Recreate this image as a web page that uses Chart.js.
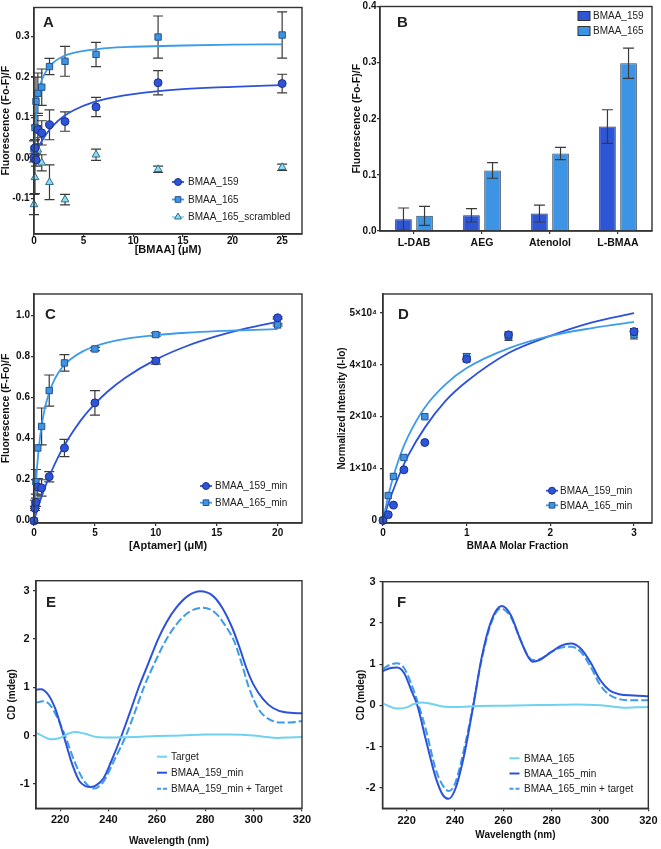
<!DOCTYPE html>
<html>
<head>
<meta charset="utf-8">
<script src="https://cdn.jsdelivr.net/npm/chart.js@4.4.0/dist/chart.umd.min.js"></script>
<style>
  body { margin: 0; background: #fff; width: 661px; height: 849px; position: relative; overflow: hidden; }
  canvas { position: absolute; }
</style>
</head>
<body>
<canvas id="chartA" style="left:0;top:0" width="330" height="262"></canvas>
<canvas id="chartB" style="left:330px;top:0" width="331" height="262"></canvas>
<canvas id="chartC" style="left:0;top:270px" width="330" height="287"></canvas>
<canvas id="chartD" style="left:330px;top:270px" width="331" height="287"></canvas>
<canvas id="chartE" style="left:0;top:560px" width="330" height="289"></canvas>
<canvas id="chartF" style="left:330px;top:560px" width="331" height="289"></canvas>
<script>
// ---- panel A : titration, [BMAA] (uM)
const concA = [0, 0.1, 0.2, 0.39, 0.78, 1.56, 3.125, 6.25, 12.5, 25];
const resp159A = [0.0, 0.025, -0.005, 0.07, 0.062, 0.082, 0.09, 0.126, 0.186, 0.184];
const err159A = [0.01, 0.02, 0.015, 0.035, 0.03, 0.037, 0.024, 0.024, 0.03, 0.023];
const resp165A = [0.022, 0.075, 0.14, 0.16, 0.175, 0.226, 0.239, 0.256, 0.299, 0.304];
const err165A = [0.02, 0.03, 0.06, 0.05, 0.045, 0.02, 0.037, 0.03, 0.052, 0.057];
const concScrA = [0, 0.1, 0.39, 0.78, 1.56, 3.125, 6.25, 12.5, 25];
const respScrA = [-0.115, -0.048, 0.02, -0.012, -0.06, -0.103, 0.008, -0.028, -0.023];
const errScrA = [0.025, 0.04, 0.03, 0.02, 0.043, 0.013, 0.014, 0.008, 0.008];
const fitXA = [0, 0.1, 0.2, 0.35, 0.5, 0.75, 1, 1.5, 2, 3, 4, 6, 8, 10, 15, 20, 25];
const fit165A = [0, 0.06, 0.1, 0.14, 0.165, 0.19, 0.205, 0.225, 0.237, 0.252, 0.26, 0.268, 0.273, 0.275, 0.278, 0.28, 0.281];
const fit159A = [0, 0.006, 0.012, 0.02, 0.028, 0.04, 0.05, 0.068, 0.082, 0.103, 0.118, 0.138, 0.15, 0.158, 0.17, 0.176, 0.18];
const xTicksA = [0, 5, 10, 15, 20, 25];
const yTicksA = [-0.1, 0, 0.1, 0.2, 0.3];

// ---- panel B : selectivity bars
const catsB = ['L-DAB', 'AEG', 'Atenolol', 'L-BMAA'];
const bar159B = [0.021, 0.028, 0.031, 0.186];
const barErr159B = [0.02, 0.012, 0.015, 0.03];
const bar165B = [0.027, 0.108, 0.138, 0.299];
const barErr165B = [0.017, 0.014, 0.011, 0.027];
const yTicksB = [0, 0.1, 0.2, 0.3, 0.4];

// ---- panel C : [Aptamer] (uM)
const concC = [0, 0.078, 0.156, 0.3125, 0.625, 1.25, 2.5, 5, 10, 20];
const resp159C = [0, 0.06, 0.09, 0.165, 0.16, 0.215, 0.355, 0.575, 0.78, 0.99];
const err159C = [0, 0.01, 0.02, 0.04, 0.04, 0.025, 0.042, 0.06, 0.016, 0.005];
const resp165C = [0, 0.08, 0.19, 0.355, 0.46, 0.635, 0.77, 0.838, 0.908, 0.955];
const err165C = [0, 0.02, 0.06, 0.0, 0.09, 0.076, 0.04, 0.008, 0.008, 0.005];
const fitXC = [0, 0.25, 0.5, 0.75, 1, 1.5, 2, 2.5, 3, 4, 5, 6, 7.5, 10, 12.5, 15, 17.5, 20];
const fit165C = [0, 0.26, 0.41, 0.507, 0.576, 0.665, 0.722, 0.76, 0.788, 0.826, 0.851, 0.869, 0.887, 0.905, 0.917, 0.925, 0.93, 0.935];
const fit159C = [0, 0.05, 0.096, 0.139, 0.178, 0.25, 0.313, 0.368, 0.417, 0.502, 0.57, 0.628, 0.698, 0.786, 0.851, 0.9, 0.939, 0.97];
const xTicksC = [0, 5, 10, 15, 20];
const yTicksC = [0, 0.2, 0.4, 0.6, 0.8, 1.0];

// ---- panel D : BMAA molar fraction
const fracD = [0, 0.0625, 0.125, 0.25, 0.5, 1, 1.5, 3];
const int159D = [0, 1100, 2950, 9760, 15030, 31100, 35800, 36400];
const intErr159D = [0, 0, 0, 0, 0, 500, 600, 600];
const int165D = [0, 4800, 8480, 12140, 20000, 31600, 35450, 35800];
const intErr165D = [0, 0, 0, 0, 0, 600, 700, 800];
const fitXD = [0, 0.05, 0.1, 0.2, 0.3, 0.5, 0.75, 1, 1.5, 2, 2.5, 3];
const fit159D = [0, 2600, 4900, 9000, 12500, 17900, 23100, 26800, 32300, 35600, 38200, 40000];
const fit165D = [0, 3850, 7100, 12300, 16200, 21800, 26300, 29400, 33200, 35600, 37100, 38300];
const xTicksD = [0, 1, 2, 3];
const yTicksD = [0, 10000, 20000, 30000, 40000];
const yLabelsD = ['0', '1×10⁴', '2×10⁴', '4×10⁴', '5×10⁴'];

// ---- panel E : CD spectra BMAA_159_min
const wlTargetE = [210, 213, 216, 220, 223, 226, 230, 235, 240, 250, 260, 270, 280, 290, 300, 305, 310, 315, 320];
const cdTargetE = [0.06, -0.02, -0.08, -0.05, 0.03, 0.07, 0.04, -0.03, -0.04, -0.03, -0.01, 0.0, 0.02, 0.02, 0.0, -0.03, -0.05, -0.04, -0.03];
const wl159E = [210, 212, 215, 218, 221.4, 225, 228, 230.5, 232.7, 235, 238, 241, 245.4, 249, 252.5, 256.5, 260.5, 264, 268, 273, 278, 283, 287, 291, 294, 297, 300, 304, 308, 313, 320];
const cd159E = [0.95, 0.96, 0.85, 0.55, 0, -0.6, -0.95, -1.05, -1.07, -1.03, -0.88, -0.55, 0, 0.5, 1.0, 1.5, 2.0, 2.35, 2.65, 2.9, 2.99, 2.9, 2.65, 2.25, 1.85, 1.4, 1.05, 0.75, 0.57, 0.48, 0.46];
const wl159TE = [210, 213, 216, 219, 222, 226, 230, 234, 238, 242, 247.2, 251, 254.6, 259, 264, 268, 273, 279, 284, 288, 292, 295, 298, 302, 306, 311, 315, 320];
const cd159TE = [0.68, 0.71, 0.62, 0.35, 0, -0.55, -0.95, -1.1, -0.95, -0.55, 0, 0.5, 1.0, 1.5, 2.0, 2.3, 2.55, 2.65, 2.55, 2.3, 1.95, 1.5, 1.0, 0.55, 0.35, 0.27, 0.27, 0.3];
const xTicksEF = [220, 240, 260, 280, 300, 320];
const yTicksE = [-1, 0, 1, 2, 3];

// ---- panel F : CD spectra BMAA_165_min
const wlTargetF = [210, 213, 216, 220, 223, 226, 230, 235, 240, 250, 260, 270, 280, 290, 300, 305, 310, 315, 320];
const cdTargetF = [0.05, -0.03, -0.08, -0.05, 0.03, 0.07, 0.04, -0.03, -0.04, -0.02, -0.01, 0.0, 0.01, 0.02, 0.0, -0.03, -0.06, -0.05, -0.04];
const wl165F = [210, 213, 216, 219, 222, 224.4, 228, 232, 235, 237.3, 240, 244, 247.6, 251, 255, 259.3, 263, 267, 270, 272, 275, 280, 284, 288, 292, 296, 300, 304, 308, 314, 320];
const cd165F = [0.83, 0.9, 0.92, 0.78, 0.35, 0, -0.85, -1.75, -2.18, -2.27, -2.05, -1.15, 0, 1.15, 2.05, 2.41, 2.2, 1.6, 1.2, 1.06, 1.1, 1.3, 1.45, 1.5, 1.38, 1.05, 0.62, 0.36, 0.27, 0.24, 0.22];
const wl165TF = [210, 213, 216, 219, 222, 225, 228, 232, 235, 237.5, 240, 244, 247.5, 251, 255, 259, 263, 267, 270, 272, 275, 280, 284, 288, 292, 296, 300, 304, 308, 314, 320];
const cd165TF = [0.88, 0.98, 1.02, 0.9, 0.5, 0, -0.6, -1.55, -1.95, -2.08, -1.9, -1.0, 0, 1.1, 2.0, 2.35, 2.15, 1.6, 1.22, 1.1, 1.12, 1.3, 1.4, 1.42, 1.3, 0.95, 0.5, 0.25, 0.15, 0.12, 0.12];
const yTicksF = [-2, -1, 0, 1, 2, 3];

const FONT = '"Liberation Sans", Arial, Helvetica, sans-serif';
const DARK = '#2d55d5', DARK_EDGE = '#1a2f8f', DARK_LINE = '#2b52d8';
const LIGHT = '#3e94e4', LIGHT_EDGE = '#25528f', LIGHT_LINE = '#3d9be9';
const CYAN = '#8fdaf0', CYAN_EDGE = '#2f6f8a', CYAN_LINE = '#6fd2ef';

Chart.defaults.font.family = FONT;
Chart.defaults.animation = false;

const pts = (xs, ys) => xs.map((x, i) => ({ x: x, y: ys[i] }));

const errorBars = {
    id: 'errorBars',
    draw(chart, opts) {
        const ctx = chart.ctx;
        ctx.save();
        ctx.strokeStyle = '#3a3a3a';
        ctx.lineWidth = 1.2;
        chart.data.datasets.forEach((ds, i) => {
            if (!ds.errors) return;
            const meta = chart.getDatasetMeta(i);
            const yScale = chart.scales[meta.yAxisID];
            meta.data.forEach((el, j) => {
                const e = ds.errors[j];
                if (!e) return;
                const v = typeof ds.data[j] === 'object' ? ds.data[j].y : ds.data[j];
                const y1 = yScale.getPixelForValue(v - e), y2 = yScale.getPixelForValue(v + e);
                const c = opts.cap || 5;
                ctx.beginPath();
                ctx.moveTo(el.x, y1); ctx.lineTo(el.x, y2);
                ctx.moveTo(el.x - c, y1); ctx.lineTo(el.x + c, y1);
                ctx.moveTo(el.x - c, y2); ctx.lineTo(el.x + c, y2);
                ctx.stroke();
            });
        });
        ctx.restore();
    },
    beforeDatasetsDraw(chart, args, opts) { if (!opts.above) this.draw(chart, opts); },
    afterDatasetsDraw(chart, args, opts) { if (opts.above) this.draw(chart, opts); }
};

const panelFrame = {
    id: 'panelFrame',
    afterDraw(chart, args, opts) {
        const { ctx, chartArea: a } = chart;
        ctx.save();
        ctx.strokeStyle = '#333';
        ctx.lineWidth = 1.4;
        ctx.strokeRect(a.left, a.top, a.right - a.left, a.bottom - a.top);
        ctx.font = 'bold 15px ' + FONT;
        ctx.fillStyle = '#222';
        ctx.textBaseline = 'alphabetic';
        ctx.fillText(opts.letter, opts.x, opts.y);

        // legend
        const lg = opts.legend;
        ctx.font = '10px ' + FONT;
        ctx.textBaseline = 'middle';
        lg.items.forEach((idx, k) => {
            const ds = chart.data.datasets[idx];
            const cx = lg.cx, cy = lg.y + k * lg.step;
            ctx.save();
            if (ds.legendKind === 'point') {
                ctx.strokeStyle = ds.legendLine; ctx.lineWidth = 1.8;
                ctx.beginPath(); ctx.moveTo(cx - 6, cy); ctx.lineTo(cx + 6, cy); ctx.stroke();
                ctx.fillStyle = ds.backgroundColor; ctx.strokeStyle = ds.borderColor; ctx.lineWidth = ds.borderWidth;
                Chart.helpers.drawPoint(ctx, { pointStyle: ds.pointStyle, radius: ds.pointRadius - 0.5, rotation: 0, borderWidth: ds.borderWidth }, cx, cy);
            } else if (ds.legendKind === 'box') {
                ctx.fillStyle = ds.backgroundColor; ctx.strokeStyle = '#333'; ctx.lineWidth = 1;
                ctx.fillRect(cx - 6, cy - 4.5, 12, 9); ctx.strokeRect(cx - 6, cy - 4.5, 12, 9);
            } else {
                ctx.strokeStyle = ds.borderColor; ctx.lineWidth = ds.borderWidth;
                ctx.setLineDash(ds.borderDash ? [4, 2] : []);
                ctx.beginPath(); ctx.moveTo(cx - 5, cy); ctx.lineTo(cx + 5, cy); ctx.stroke();
            }
            ctx.restore();
            ctx.fillStyle = '#222';
            ctx.fillText(ds.label, lg.textX, cy + 0.5);
        });
        ctx.restore();
    }
};

function axis(o) {
    const left = o.pos === 'left';
    const ticks = {
        font: { weight: 'bold', size: o.tickSize || 10 }, color: '#111', padding: o.tickPad,
        autoSkip: false, maxRotation: 0
    };
    if (o.fmt) ticks.callback = o.fmt;
    const cfg = {
        type: o.type || 'linear', position: o.pos, offset: !!o.offset,
        afterFit: s => { if (left) s.width = o.size; else s.height = o.size; },
        ticks: ticks,
        grid: { drawOnChartArea: false, offset: false, tickLength: 3, color: '#333', lineWidth: 1.2 },
        border: { color: '#333', width: 1.4 },
        title: {
            display: !!o.title, text: o.title || '', color: '#111',
            font: { weight: 'bold', size: o.titleSize || 10.5 },
            padding: left ? { top: o.titlePad, bottom: 0 } : { top: 0, bottom: o.titlePad }
        }
    };
    if (o.min !== undefined) { cfg.min = o.min; cfg.max = o.max; }
    if (o.ticks) cfg.afterBuildTicks = s => { s.ticks = o.ticks.map(v => ({ value: v })); };
    return cfg;
}

function pointSet(label, xs, ys, errs, style, fill, edge, line, radius) {
    return {
        label: label, data: pts(xs, ys), errors: errs, showLine: false, clip: false,
        pointStyle: style, pointRadius: radius, backgroundColor: fill, borderColor: edge, borderWidth: 1,
        legendKind: 'point', legendLine: line, order: 0
    };
}
function curveSet(xs, ys, color, width, dash, label) {
    return {
        label: label || '', data: pts(xs, ys), showLine: true, pointRadius: 0, borderColor: color,
        borderWidth: width, borderDash: dash, fill: false, cubicInterpolationMode: 'monotone',
        legendKind: 'line', order: 1, clip: false
    };
}
const fmt1 = v => v.toFixed(1);
const fmt0 = v => String(v);
const basePlugins = { legend: { display: false }, tooltip: { enabled: false } };

// A
new Chart(document.getElementById('chartA'), {
    type: 'scatter',
    data: { datasets: [
        pointSet('BMAA_159', concA, resp159A, err159A, 'circle', DARK, DARK_EDGE, DARK_LINE, 4),
        pointSet('BMAA_165', concA, resp165A, err165A, 'rect', LIGHT, LIGHT_EDGE, LIGHT_LINE, 4.5),
        pointSet('BMAA_165_scrambled', concScrA, respScrA, errScrA, 'triangle', CYAN, CYAN_EDGE, CYAN, 4.5),
        curveSet(fitXA, fit165A, LIGHT_LINE, 1.8),
        curveSet(fitXA, fit159A, DARK_LINE, 1.8)
    ] },
    options: {
        responsive: false, devicePixelRatio: 1,
        layout: { padding: { top: 5, right: 28, left: 0, bottom: 0 } },
        scales: {
            x: axis({ pos: 'bottom', min: 0, max: 27, ticks: xTicksA, size: 28, tickPad: -1.5, fmt: fmt0, title: '[BMAA] (μM)', titlePad: 5, titleSize: 11 }),
            y: axis({ pos: 'left', min: -0.188, max: 0.372, ticks: yTicksA, size: 34, tickPad: 1.5, fmt: fmt1, title: 'Fluorescence (Fo-F)/F', titlePad: 0 })
        },
        plugins: { ...basePlugins, errorBars: { cap: 5 },
            panelFrame: { letter: 'A', x: 43, y: 27, legend: { items: [0, 1, 2], cx: 178, textX: 188, y: 182, step: 17.5 } } }
    },
    plugins: [errorBars, panelFrame]
});

// B
new Chart(document.getElementById('chartB'), {
    type: 'bar',
    data: { labels: catsB, datasets: [
        { label: 'BMAA_159', data: bar159B, errors: barErr159B, backgroundColor: DARK, borderColor: '#2a3350', borderWidth: 1, legendKind: 'box',
          categoryPercentage: 0.62, barPercentage: 0.79 },
        { label: 'BMAA_165', data: bar165B, errors: barErr165B, backgroundColor: LIGHT, borderColor: '#33475e', borderWidth: 1, legendKind: 'box',
          categoryPercentage: 0.62, barPercentage: 0.79 }
    ] },
    options: {
        responsive: false, devicePixelRatio: 1,
        layout: { padding: { top: 6, right: 9, left: 0, bottom: 0 } },
        scales: {
            x: axis({ type: 'category', pos: 'bottom', offset: true, size: 31, tickPad: 3, tickSize: 10.5 }),
            y: axis({ pos: 'left', min: 0, max: 0.4, ticks: yTicksB, size: 50, tickPad: 0.5, fmt: fmt1, title: 'Fluorescence (Fo-F)/F', titlePad: 20.5 })
        },
        plugins: { ...basePlugins, errorBars: { cap: 5.5, above: true },
            panelFrame: { letter: 'B', x: 67, y: 27, legend: { items: [0, 1], cx: 254, textX: 263, y: 16, step: 15 } } }
    },
    plugins: [errorBars, panelFrame]
});

// C
new Chart(document.getElementById('chartC'), {
    type: 'scatter',
    data: { datasets: [
        pointSet('BMAA_159_min', concC, resp159C, err159C, 'circle', DARK, DARK_EDGE, DARK_LINE, 4),
        pointSet('BMAA_165_min', concC, resp165C, err165C, 'rect', LIGHT, LIGHT_EDGE, LIGHT_LINE, 4.5),
        curveSet(fitXC, fit165C, LIGHT_LINE, 1.8),
        curveSet(fitXC, fit159C, DARK_LINE, 1.8)
    ] },
    options: {
        responsive: false, devicePixelRatio: 1,
        layout: { padding: { top: 24, right: 28, left: 0, bottom: 0 } },
        scales: {
            x: axis({ pos: 'bottom', min: 0, max: 22, ticks: xTicksC, size: 34, tickPad: 1.5, fmt: fmt0, title: '[Aptamer] (μM)', titlePad: 4, titleSize: 11 }),
            y: axis({ pos: 'left', min: -0.011, max: 1.106, ticks: yTicksC, size: 34, tickPad: 1, fmt: fmt1, title: 'Fluorescence (F-Fo)/F', titlePad: 0 })
        },
        plugins: { ...basePlugins, errorBars: { cap: 5 },
            panelFrame: { letter: 'C', x: 45, y: 49, legend: { items: [0, 1], cx: 206, textX: 215, y: 216, step: 16.7 } } }
    },
    plugins: [errorBars, panelFrame]
});

// D
new Chart(document.getElementById('chartD'), {
    type: 'scatter',
    data: { datasets: [
        pointSet('BMAA_159_min', fracD, int159D, intErr159D, 'circle', DARK, DARK_EDGE, DARK_LINE, 4),
        pointSet('BMAA_165_min', fracD, int165D, intErr165D, 'rect', LIGHT, LIGHT_EDGE, LIGHT_LINE, 4.5),
        curveSet(fitXD, fit165D, LIGHT_LINE, 1.8),
        curveSet(fitXD, fit159D, DARK_LINE, 1.8)
    ] },
    options: {
        responsive: false, devicePixelRatio: 1,
        layout: { padding: { top: 24, right: 9, left: 0, bottom: 0 } },
        scales: {
            x: axis({ pos: 'bottom', min: 0, max: 3.215, ticks: xTicksD, size: 34, tickPad: 1.5, fmt: fmt0, title: 'BMAA Molar Fraction', titlePad: 4.5, titleSize: 10 }),
            y: axis({ pos: 'left', min: -500, max: 43680, ticks: yTicksD, size: 53, tickPad: 3, fmt: (v, i) => yLabelsD[i], title: 'Normalized Intensity (I-Io)', titlePad: 6, titleSize: 10 })
        },
        plugins: { ...basePlugins, errorBars: { cap: 4 },
            panelFrame: { letter: 'D', x: 68, y: 49, legend: { items: [0, 1], cx: 222, textX: 230, y: 220.7, step: 14.6 } } }
    },
    plugins: [errorBars, panelFrame]
});

// E
new Chart(document.getElementById('chartE'), {
    type: 'scatter',
    data: { datasets: [
        curveSet(wlTargetE, cdTargetE, CYAN_LINE, 2, undefined, 'Target'),
        curveSet(wl159E, cd159E, DARK_LINE, 2, undefined, 'BMAA_159_min'),
        curveSet(wl159TE, cd159TE, LIGHT_LINE, 2, [8, 3], 'BMAA_159_min + Target')
    ] },
    options: {
        responsive: false, devicePixelRatio: 1,
        layout: { padding: { top: 20.7, right: 28, left: 0, bottom: 0 } },
        scales: {
            x: axis({ pos: 'bottom', min: 210, max: 320, ticks: xTicksEF, size: 40.7, tickPad: 2.5, tickSize: 11, fmt: fmt0, title: 'Wavelength (nm)', titlePad: 1.7, titleSize: 10 }),
            y: axis({ pos: 'left', min: -1.51, max: 3.21, ticks: yTicksE, size: 36, tickPad: 3.5, tickSize: 11, fmt: fmt0, title: 'CD (mdeg)', titlePad: 6, titleSize: 10 })
        },
        plugins: { ...basePlugins, errorBars: {},
            panelFrame: { letter: 'E', x: 46, y: 47, legend: { items: [0, 1, 2], cx: 162, textX: 171, y: 196.7, step: 16 } } }
    },
    plugins: [errorBars, panelFrame]
});

// F
new Chart(document.getElementById('chartF'), {
    type: 'scatter',
    data: { datasets: [
        curveSet(wlTargetF, cdTargetF, CYAN_LINE, 2, undefined, 'BMAA_165'),
        curveSet(wl165F, cd165F, DARK_LINE, 2, undefined, 'BMAA_165_min'),
        curveSet(wl165TF, cd165TF, LIGHT_LINE, 2, [8, 3], 'BMAA_165_min + target')
    ] },
    options: {
        responsive: false, devicePixelRatio: 1,
        layout: { padding: { top: 21.7, right: 10, left: 0, bottom: 0 } },
        scales: {
            x: axis({ pos: 'bottom', min: 210, max: 320, ticks: xTicksEF, size: 40.7, tickPad: 3.5, tickSize: 11, fmt: fmt0, title: 'Wavelength (nm)', titlePad: 7.7, titleSize: 10 }),
            y: axis({ pos: 'left', min: -2.5, max: 3, ticks: yTicksF, size: 52.5, tickPad: 4, tickSize: 11, fmt: fmt0, title: 'CD (mdeg)', titlePad: 25.5, titleSize: 10 })
        },
        plugins: { ...basePlugins, errorBars: {},
            panelFrame: { letter: 'F', x: 67, y: 47, legend: { items: [0, 1, 2], cx: 184.5, textX: 194, y: 198.3, step: 15.2 } } }
    },
    plugins: [errorBars, panelFrame]
});
</script>
</body>
</html>
